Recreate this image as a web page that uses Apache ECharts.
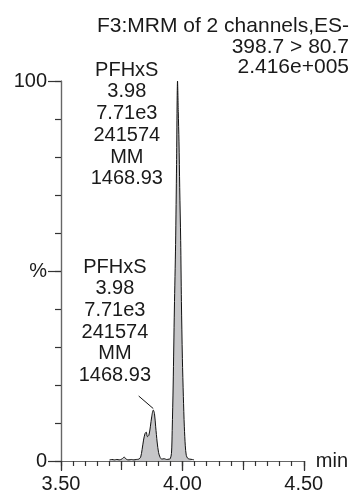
<!DOCTYPE html>
<html><head><meta charset="utf-8">
<script src="https://cdn.jsdelivr.net/npm/echarts@6/dist/echarts.min.js"></script>
<style>html,body{margin:0;padding:0;background:#fff}#c{width:351px;height:494px}</style>
</head><body><div id="c"></div>
<script>
// ---- data ----
const titleLines = ["F3:MRM of 2 channels,ES-", "398.7 > 80.7", "2.416e+005"];
const times = [3.700,3.710,3.720,3.730,3.740,3.750,3.760,3.765,3.770,3.780,3.790,3.800,3.810,3.820,3.828,3.834,3.840,3.846,3.851,3.856,3.862,3.868,3.874,3.880,3.885,3.890,3.896,3.902,3.908,3.915,3.925,3.935,3.945,3.950,3.955,3.958,3.962,3.967,3.972,3.976,3.980,3.983,3.986,3.989,3.993,3.996,4.000,4.004,4.008,4.012,4.016,4.022,4.030,4.040,4.048];
const intensity = [0.3,0.4,0.3,0.4,0.3,0.5,1.0,0.8,0.4,0.3,0.4,0.3,0.4,0.5,1.0,3.0,5.5,7.2,7.6,6.4,6.8,9.0,11.8,13.4,12.5,9.0,5.0,2.2,1.0,0.5,0.6,0.4,0.5,0.6,2,8,20,40,57,78,100,92,84,72,58,42,27,17,9,4,1.5,0.7,0.5,0.4,0.3];
const peakLabel = ["PFHxS", "3.98", "7.71e3", "241574", "MM", "1468.93"];
const yLabelMap = {0: "0", 50: "%", 100: "100"};
// annotation anchors (data coords)
const block1 = [3.771, 105.7];
const block2 = [3.722, 53.9];
const leader1 = [[3.918, 100.4], [3.979, 100.4]];
const leader2 = [[3.820, 17.1], [3.880, 13.8]];

const FONT = '"Liberation Sans", Arial, sans-serif';
const chart = echarts.init(document.getElementById('c'), null, {renderer: 'canvas'});
const seriesData = times.map((t, i) => [t, intensity[i]]);
const axisCol = '#666';
const tickCol = '#333';
const txtCol = '#1a1a1a';

function xAxisDef(interval, len, showLabel, name) {
  return {
    type: 'value', position: 'bottom', min: 3.5, max: 4.5, interval: interval,
    axisLine: {show: true, lineStyle: {color: axisCol, width: 1.2}},
    axisTick: {show: true, length: len, lineStyle: {color: tickCol, width: 1.2}},
    axisLabel: {show: showLabel, margin: 13, color: txtCol, fontSize: 20, fontFamily: FONT,
      formatter: v => v.toFixed(2)},
    splitLine: {show: false},
    name: name || '', nameLocation: 'end', nameGap: 12,
    nameTextStyle: {color: txtCol, fontSize: 20, fontFamily: FONT, verticalAlign: 'middle', padding: [0,0,3,0]}
  };
}
function yAxisDef(interval, len, showLabel) {
  return {
    type: 'value', position: 'left', min: 0, max: 100, interval: interval,
    axisLine: {show: true, lineStyle: {color: axisCol, width: 1.2}},
    axisTick: {show: true, length: len, lineStyle: {color: tickCol, width: 1.2}},
    axisLabel: {show: showLabel, margin: 14, color: txtCol, fontSize: 20, fontFamily: FONT,
      formatter: v => (yLabelMap[v] !== undefined ? yLabelMap[v] : '')},
    splitLine: {show: false}
  };
}

chart.setOption({
  animation: false,
  backgroundColor: '#fff',
  grid: {left: 61, right: 46, top: 81, bottom: 33, containLabel: false},
  xAxis: [xAxisDef(0.05, 5, false), xAxisDef(0.25, 9, false), xAxisDef(0.5, 10, true, 'min')],
  yAxis: [yAxisDef(10, 6, false), yAxisDef(50, 13, true)],
  series: [{
    type: 'line', xAxisIndex: 0, yAxisIndex: 0, data: seriesData, symbol: 'none', smooth: 0.3,
    lineStyle: {color: '#111', width: 1},
    areaStyle: {color: '#c6c6c8', opacity: 1},
    markLine: {
      silent: true, symbol: 'none', label: {show: false},
      lineStyle: {color: '#111', width: 1, type: 'solid'},
      data: [
        [{coord: leader1[0]}, {coord: leader1[1]}],
        [{coord: leader2[0]}, {coord: leader2[1]}]
      ]
    }
  }]
});

function place() {
  const p1 = chart.convertToPixel({xAxisIndex: 0, yAxisIndex: 0}, block1);
  const p2 = chart.convertToPixel({xAxisIndex: 0, yAxisIndex: 0}, block2);
  const mk = (p) => ({
    type: 'text', x: p[0], y: p[1],
    style: {text: peakLabel.join('\n'), fill: txtCol, font: '20px ' + FONT, lineHeight: 21.7,
      align: 'center', verticalAlign: 'top'}
  });
  const W = chart.getWidth();
  chart.setOption({graphic: [
    {type: 'text', x: W - 2, y: 16,
     style: {text: titleLines.join('\n'), fill: txtCol, font: '21px ' + FONT, lineHeight: 20.5,
       align: 'right', verticalAlign: 'top'}},
    mk(p1), mk(p2)
  ]});
}
place();
</script></body></html>
